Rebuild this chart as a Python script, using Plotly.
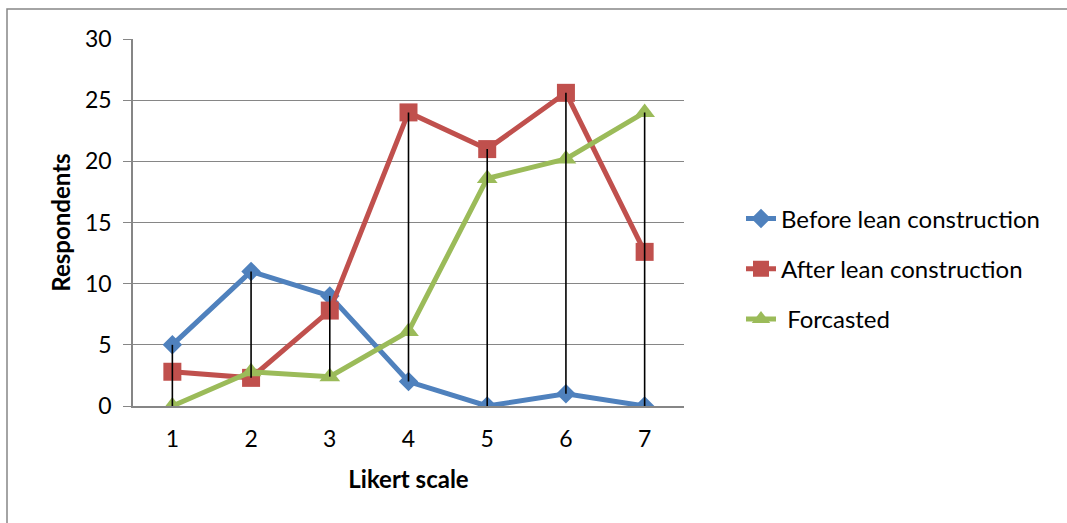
import plotly.graph_objects as go

categories = [1, 2, 3, 4, 5, 6, 7]
before = [5, 11, 9, 2, 0, 1, 0]
after = [2.8, 2.3, 7.8, 24, 21, 25.6, 12.6]
forecast = [0, 2.8, 2.4, 6.1, 18.6, 20.2, 24]
series_names = ["Before lean construction", "After lean construction", " Forcasted"]
y_ticks = [0, 5, 10, 15, 20, 25, 30]

colors = ["#4F81BD", "#C0504D", "#9BBB59"]
symbols = ["diamond", "square", "triangle-up"]
sizes = [15, 18, 18]

fig = go.Figure()
for i, (name, vals) in enumerate(zip(series_names, [before, after, forecast])):
    fig.add_trace(go.Scatter(
        x=categories, y=vals, name=name, mode="lines+markers",
        line=dict(color=colors[i], width=5),
        marker=dict(symbol=symbols[i], size=sizes[i], color=colors[i]),
        legendgroup=f"g{i}",
    ))

# high-low lines
hx, hy = [], []
for k, c in enumerate(categories):
    vs = [before[k], after[k], forecast[k]]
    hx += [c, c, None]
    hy += [min(vs), max(vs), None]
fig.add_trace(go.Scatter(x=hx, y=hy, mode="lines", line=dict(color="black", width=1.6),
                         showlegend=False, hoverinfo="skip"))

L, T = 133, 39
PW, PH = 551, 367
W, H = 1067, 523
fig.update_layout(
    width=W, height=H,
    margin=dict(l=L, r=W - L - PW, t=T, b=H - T - PH),
    paper_bgcolor="white", plot_bgcolor="white",
    font=dict(family="Lato, Open Sans, sans-serif", color="black", size=23),
    legend=dict(x=(741 - L) / PW, y=(406 - 269) / PH, xanchor="left", yanchor="middle",
                font=dict(size=24), tracegroupgap=16, bgcolor="rgba(0,0,0,0)"),
    showlegend=True,
)
fig.update_xaxes(
    range=[0.5, 7.5], tickvals=categories, ticktext=[str(c) for c in categories],
    showgrid=False, zeroline=False, showline=True, linecolor="#868686", linewidth=1.5,
    ticks="", tickfont=dict(size=23), ticklabelstandoff=12,
    title=dict(text="<b>Likert scale</b>", font=dict(size=24), standoff=20),
)
fig.update_yaxes(
    range=[0, 30], tickvals=y_ticks, showgrid=True, gridcolor="#868686", gridwidth=1.3,
    zeroline=False, showline=True, linecolor="#868686", linewidth=1.5,
    ticks="outside", ticklen=8, tickcolor="#868686", tickfont=dict(size=23),
    ticklabelstandoff=7,
    title=dict(text="<b>Respondents</b>", font=dict(size=24), standoff=8),
)
fig.add_shape(type="rect", xref="paper", yref="paper",
              x0=(7 - L) / PW, x1=(1075 - L) / PW,
              y0=-0.5, y1=(406 - 9) / PH,
              line=dict(color="#868686", width=1.5), fillcolor="rgba(0,0,0,0)", layer="below")

fig.write_html("out.html", config={"displayModeBar": False},
               post_script="document.body.style.margin='0';")
